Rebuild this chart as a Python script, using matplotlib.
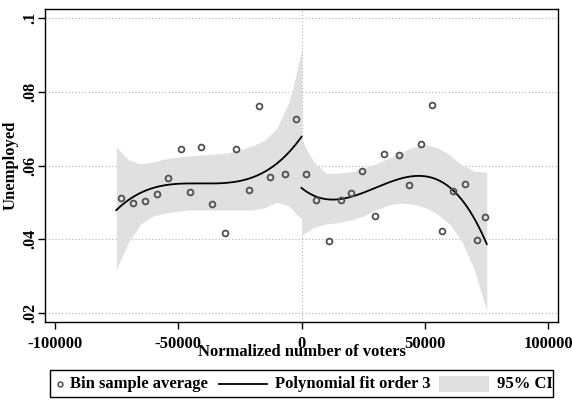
import matplotlib
matplotlib.use("Agg")
import matplotlib.pyplot as plt
import matplotlib.patches as patches
import numpy as np

plt.rcParams["font.family"] = ["Liberation Serif", "DejaVu Serif"]
plt.rcParams["font.weight"] = "bold"

# binned sample averages, left and right of the cutoff
bin_x_left = [-72900, -68200, -63300, -58600, -54000, -48900, -45200, -40500,
              -36300, -30900, -26500, -21300, -17200, -12800, -6500, -2400]
bin_y_left = [0.0511, 0.0497, 0.0503, 0.0522, 0.0565, 0.0645, 0.0527, 0.0651,
              0.0496, 0.0416, 0.0644, 0.0534, 0.0762, 0.0568, 0.0577, 0.0726]
bin_x_right = [1900, 5700, 11100, 15800, 20000, 24300, 29700, 33200, 39300,
               43400, 48200, 52900, 56800, 61400, 66000, 70900, 74200]
bin_y_right = [0.0578, 0.0505, 0.0395, 0.0507, 0.0526, 0.0586, 0.0464, 0.0630,
               0.0629, 0.0548, 0.0659, 0.0765, 0.0421, 0.0531, 0.0551, 0.0398,
               0.0459]

# fitted values and 95% CI bounds on a grid of the running variable
grid_left = [-75000, -70000, -65000, -60000, -55000, -50000, -45000, -40000,
             -35000, -30000, -25000, -20000, -15000, -10000, -5000, -2500, 0]
fit_left = [0.0484, 0.0504, 0.0523, 0.0536, 0.0544, 0.0550, 0.0553, 0.0554,
            0.0555, 0.0557, 0.0561, 0.0566, 0.0577, 0.0599, 0.0634, 0.0656,
            0.0685]
ci_hi_left = [0.0650, 0.0615, 0.0604, 0.0610, 0.0618, 0.0623, 0.0626, 0.0629,
              0.0631, 0.0634, 0.0642, 0.0653, 0.0669, 0.0701, 0.0773, 0.0838,
              0.0914]
ci_lo_left = [0.0317, 0.0392, 0.0441, 0.0463, 0.0471, 0.0476, 0.0479, 0.0479,
              0.0479, 0.0479, 0.0479, 0.0479, 0.0485, 0.0500, 0.0490, 0.0470,
              0.0456]

grid_right = [0, 2500, 5000, 10000, 15000, 20000, 25000, 30000, 35000, 40000,
              45000, 50000, 55000, 60000, 65000, 70000, 75000]
fit_right = [0.0542, 0.0527, 0.0517, 0.0507, 0.0505, 0.0514, 0.0526, 0.0540,
             0.0554, 0.0567, 0.0573, 0.0573, 0.0561, 0.0538, 0.0502, 0.0452,
             0.0392]
ci_hi_right = [0.0673, 0.0638, 0.0610, 0.0579, 0.0579, 0.0583, 0.0592, 0.0604,
               0.0619, 0.0635, 0.0649, 0.0657, 0.0649, 0.0629, 0.0601, 0.0585,
               0.0581]
ci_lo_right = [0.0411, 0.0420, 0.0432, 0.0441, 0.0445, 0.0452, 0.0463, 0.0479,
               0.0492, 0.0498, 0.0495, 0.0486, 0.0468, 0.0441, 0.0393, 0.0316,
               0.0206]

xticks = [-100000, -50000, 0, 50000, 100000]
xtick_labels = ["-100000", "-50000", "0", "50000", "100000"]
yticks = [0.02, 0.04, 0.06, 0.08, 0.1]
ytick_labels = [".02", ".04", ".06", ".08", ".1"]

BAND = "#e0e0e0"
DOT = "#505050"
GRID = "#b0b0b0"

fig = plt.figure(figsize=(5.72, 4.0), dpi=100, facecolor="white")
ax = fig.add_axes([45 / 572, 78 / 400, 513 / 572, 313 / 400])

for y in yticks:
    ax.axhline(y, color=GRID, lw=0.8, ls=(0, (1, 2)), zorder=0)
ax.axvline(0, color=GRID, lw=0.8, ls=(0, (1, 2)), zorder=0)

ax.fill_between(grid_left, ci_lo_left, ci_hi_left, color=BAND, lw=0, zorder=1)
ax.fill_between(grid_right, ci_lo_right, ci_hi_right, color=BAND, lw=0, zorder=1)

# third-order polynomial through the fitted values on each side
for gx, fy in [(grid_left, fit_left), (grid_right, fit_right)]:
    coef = np.polyfit(gx, fy, 3)
    xs = np.linspace(gx[0], gx[-1], 200)
    ax.plot(xs, np.polyval(coef, xs), color="black", lw=1.3, zorder=3)

ax.plot(bin_x_left, bin_y_left, "o", ms=4.2, mfc="none", mec=DOT, mew=1.3, zorder=4)
ax.plot(bin_x_right, bin_y_right, "o", ms=4.2, mfc="none", mec=DOT, mew=1.3, zorder=4)

ax.set_xlim(-103850, 103850)
ax.set_ylim(0.01747, 0.10253)
ax.set_xticks(xticks)
ax.set_xticklabels(xtick_labels, fontsize=12, fontweight="bold")
ax.set_yticks(yticks)
ax.set_yticklabels(ytick_labels, fontsize=11.5, fontweight="bold",
                   rotation=90, va="center")
ax.tick_params(direction="out", length=5, width=1, color="black")
ax.tick_params(axis="x", pad=5)
ax.tick_params(axis="y", pad=0)
for s in ax.spines.values():
    s.set_linewidth(1.0)
    s.set_color("black")

ax.set_xlabel("Normalized number of voters", fontsize=12, fontweight="bold",
              va="center")
ax.xaxis.set_label_coords(0.5, -0.096)
ax.set_ylabel("Unemployed", fontsize=12, fontweight="bold", va="center")
ax.yaxis.set_label_coords(-0.067, 0.5)

# legend strip along the bottom
lg = fig.add_axes([50 / 572, 3 / 400, 503 / 572, 27 / 400])
lg.set_xlim(0, 503)
lg.set_ylim(0, 27)
lg.axis("off")
lg.add_patch(patches.Rectangle((0, 0), 503, 27, fill=False, ec="black",
                               lw=1.0, clip_on=False))
lg.plot([10], [13.5], "o", ms=3.5, mfc="none", mec=DOT, mew=1.1)
lg.text(20, 13.5, "Bin sample average", fontsize=12, fontweight="bold",
        va="center", ha="left")
lg.plot([169, 217], [13.5, 13.5], color="black", lw=1.3)
lg.text(225, 13.5, "Polynomial fit order 3", fontsize=12, fontweight="bold",
        va="center", ha="left")
lg.add_patch(patches.Rectangle((389, 5), 50, 16, color=BAND, lw=0))
lg.text(447, 13.5, "95% CI", fontsize=12, fontweight="bold",
        va="center", ha="left")

fig.savefig("out.png", dpi=100, facecolor="white")
